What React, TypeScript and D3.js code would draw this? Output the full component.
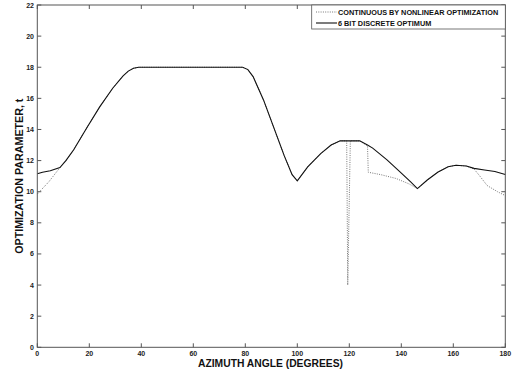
import React from 'react';
import * as d3 from 'd3';

// 6 bit discrete optimum (solid)
const solidX = [0, 2, 5, 8.7, 11, 14, 19, 24, 29, 33, 35, 37, 39, 55, 79, 81, 83, 87, 91, 95, 98, 100, 104, 109, 113, 116.5, 124, 127, 129, 134.5, 139.5, 143.5, 146.2, 150, 154, 158, 161, 165, 168, 172, 176, 180];
const solidY = [11.15, 11.25, 11.35, 11.55, 12.0, 12.7, 14.1, 15.45, 16.65, 17.45, 17.75, 17.93, 18.0, 18.0, 18.0, 17.85, 17.4, 15.9, 14.1, 12.3, 11.1, 10.7, 11.6, 12.45, 13.0, 13.27, 13.27, 13.0, 12.8, 12.05, 11.28, 10.65, 10.2, 10.75, 11.25, 11.6, 11.7, 11.65, 11.5, 11.4, 11.3, 11.1];

// continuous by nonlinear optimization (dotted)
const dottedX = [0, 4.5, 8.7, 11, 14, 19, 24, 29, 33, 35, 37, 39, 55, 79, 81, 83, 87, 91, 95, 98, 100, 104, 109, 113, 116.5, 119, 119.4, 120.4, 124, 127, 127.3, 132, 138, 143, 146.2, 150, 154, 158, 161, 165, 168, 170, 173, 177, 180];
const dottedY = [9.85, 10.65, 11.55, 12.0, 12.7, 14.1, 15.45, 16.65, 17.45, 17.75, 17.93, 18.0, 18.0, 18.0, 17.85, 17.4, 15.9, 14.1, 12.3, 11.1, 10.7, 11.6, 12.45, 13.0, 13.27, 13.27, 4.0, 13.27, 13.27, 12.95, 11.25, 11.1, 10.85, 10.5, 10.2, 10.75, 11.25, 11.6, 11.7, 11.65, 11.45, 11.05, 10.4, 10.0, 9.75];

const xTicks = [0, 20, 40, 60, 80, 100, 120, 140, 160, 180];
const yTicks = [0, 2, 4, 6, 8, 10, 12, 14, 16, 18, 20, 22];

const legendLabels = ['CONTINUOUS BY NONLINEAR OPTIMIZATION', '6 BIT DISCRETE OPTIMUM'];

const W = 514;
const H = 375;
const left = 37.3, right = 505.3, top = 5, bottom = 347.3;
const font = '"Liberation Sans", Arial, sans-serif';
const axisColor = '#555';

const App = () => {
  const x = d3.scaleLinear().domain([0, 180]).range([left, right]);
  const y = d3.scaleLinear().domain([0, 22]).range([bottom, top]);

  const line = d3.line<number>()
    .x((d) => d[0])
    .y((d) => d[1]);

  const solidPath = line(solidX.map((v, i) => [x(v), y(solidY[i])]) as any);
  const dottedPath = line(dottedX.map((v, i) => [x(v), y(dottedY[i])]) as any);

  const tickLen = 4;

  return (
    <svg width={W} height={H} style={{ position: 'absolute', left: 0, top: 0, background: '#fff' }}>
      <rect x={0} y={0} width={W} height={H} fill="#fff" />
      {/* ticks */}
      {xTicks.map((t) => (
        <g key={'x' + t}>
          <line x1={x(t)} x2={x(t)} y1={bottom} y2={bottom - tickLen} stroke={axisColor} strokeWidth={1} />
          <line x1={x(t)} x2={x(t)} y1={top} y2={top + tickLen} stroke={axisColor} strokeWidth={1} />
          <text x={x(t)} y={355.5} textAnchor="middle" fontFamily={font} fontSize={7} fontWeight="bold" fill="#222">{t}</text>
        </g>
      ))}
      {yTicks.map((t) => (
        <g key={'y' + t}>
          <line x1={left} x2={left + tickLen} y1={y(t)} y2={y(t)} stroke={axisColor} strokeWidth={1} />
          <line x1={right} x2={right - tickLen} y1={y(t)} y2={y(t)} stroke={axisColor} strokeWidth={1} />
          <text x={34} y={y(t) + 2.5} textAnchor="end" fontFamily={font} fontSize={7} fontWeight="bold" fill="#222">{t}</text>
        </g>
      ))}
      {/* data */}
      <path d={dottedPath || ''} fill="none" stroke="#777" strokeWidth={1} strokeDasharray="1,1.3" />
      <path d={solidPath || ''} fill="none" stroke="#111" strokeWidth={1.1} />
      {/* box */}
      <rect x={left} y={top} width={right - left} height={bottom - top} fill="none" stroke={axisColor} strokeWidth={1} />
      {/* legend */}
      <rect x={311.7} y={top} width={right - 311.7} height={24} fill="#fff" stroke={axisColor} strokeWidth={0.8} />
      <line x1={316} x2={337} y1={12} y2={12} stroke="#777" strokeWidth={1} strokeDasharray="1,1.3" />
      <text x={338} y={14.8} fontFamily={font} fontSize={7.3} fontWeight="bold" fill="#111">{legendLabels[0]}</text>
      <line x1={316} x2={337} y1={23} y2={23} stroke="#111" strokeWidth={1.1} />
      <text x={338} y={25.8} fontFamily={font} fontSize={7.3} fontWeight="bold" fill="#111">{legendLabels[1]}</text>
      {/* axis labels */}
      <text x={270.5} y={367} textAnchor="middle" fontFamily={font} fontSize={10.3} fontWeight="bold" fill="#111">AZIMUTH ANGLE (DEGREES)</text>
      <text transform={`translate(22.7, ${(top + bottom) / 2}) rotate(-90)`} textAnchor="middle" fontFamily={font} fontSize={10.7} fontWeight="bold" fill="#111">OPTIMIZATION PARAMETER, t</text>
    </svg>
  );
};

export default App;
